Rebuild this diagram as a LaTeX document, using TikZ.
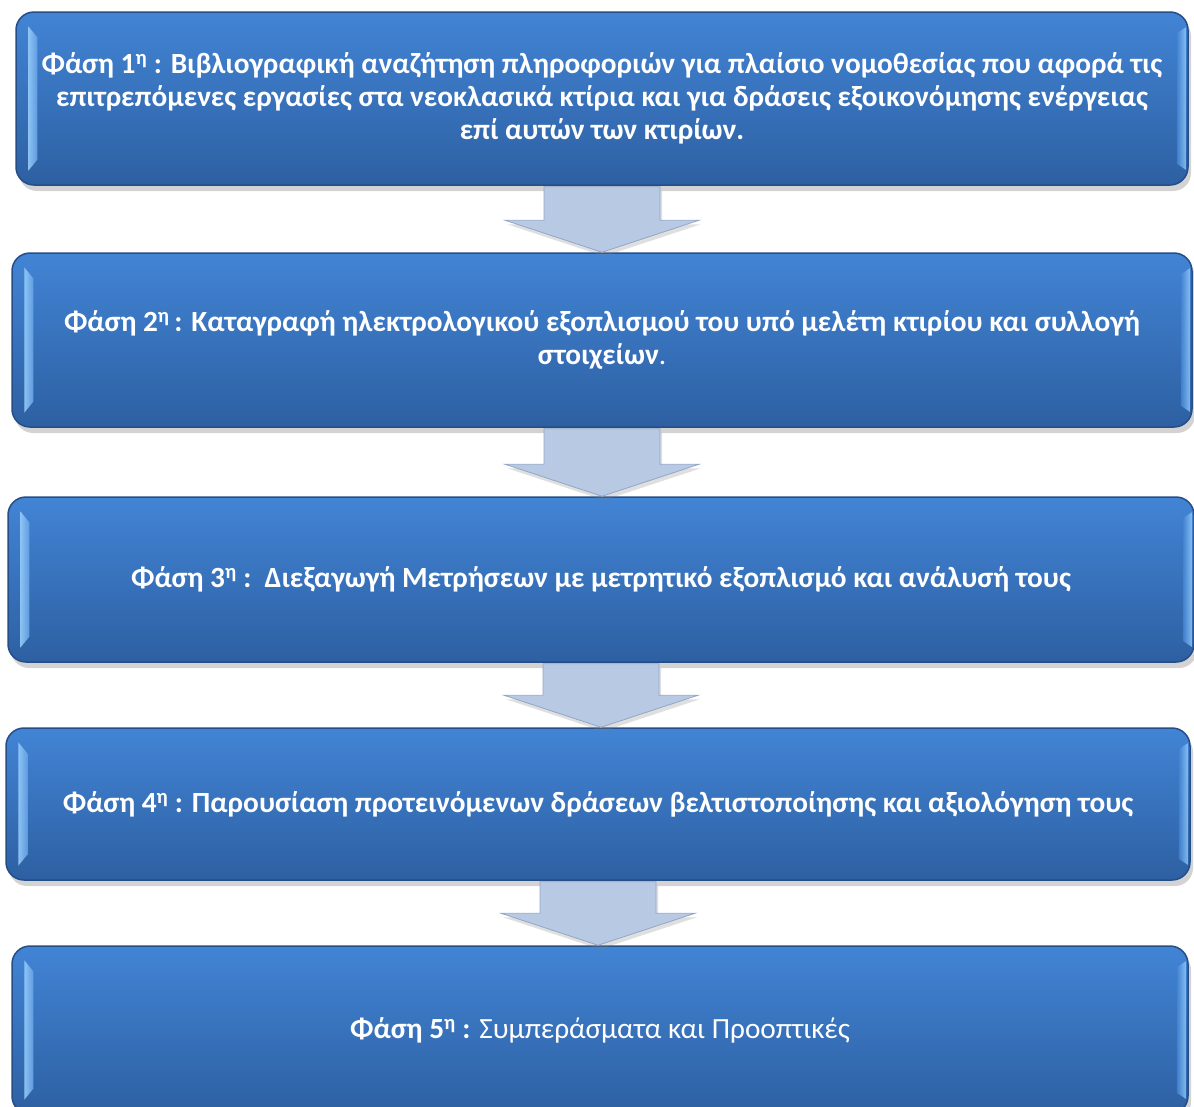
\documentclass[tikz,border=0pt]{standalone}
\usepackage{fontspec}
\setmainfont{Carlito}
\usetikzlibrary{shadows,calc}
\definecolor{phTop}{RGB}{66,132,213}
\definecolor{phBot}{RGB}{45,96,162}
\definecolor{phEdge}{RGB}{38,78,134}
\definecolor{phGlow}{RGB}{150,204,250}
\definecolor{arFill}{RGB}{184,201,227}
\definecolor{arEdge}{RGB}{146,166,200}

\begin{document}
\begin{tikzpicture}[x=1pt,y=-1pt,
    phBoxS/.style={draw=phEdge,line width=1.5pt,rounded corners=18pt,
        top color=phTop,bottom color=phBot,text=white,align=center,
        font=\fontsize{29.3}{33}\selectfont\bfseries,inner sep=0pt,
        drop shadow={shadow xshift=3pt,shadow yshift=-6pt,opacity=0.35}},
    phArrS/.style={fill=arFill,draw=arEdge,line width=0.8pt,line join=miter,
        drop shadow={shadow xshift=2pt,shadow yshift=-4pt,opacity=0.25}},
    phGlowS/.style={left color=phGlow,right color=phGlow!40!phTop,opacity=0.9},
]
\useasboundingbox (0,0) rectangle (1194,1106);
% Phase boxes
\node[phBoxS,minimum width=1172pt,minimum height=173pt] (ph1) at (602,98.5)
    {Φάση 1\textsuperscript{η} : Βιβλιογραφική αναζήτηση πληροφοριών για πλαίσιο νομοθεσίας που αφορά τις\\
     επιτρεπόμενες εργασίες στα νεοκλασικά κτίρια και για δράσεις εξοικονόμησης ενέργειας\\
     επί αυτών των κτιρίων.};
\node[phBoxS,minimum width=1180pt,minimum height=174pt] (ph2) at (602,340)
    {Φάση 2\textsuperscript{η}\,: Καταγραφή ηλεκτρολογικού εξοπλισμού του υπό μελέτη κτιρίου και συλλογή\\
     στοιχείων{\mdseries.}};
\node[phBoxS,minimum width=1186pt,minimum height=165pt] (ph3) at (601,579.5)
    {Φάση 3\textsuperscript{η} :\ \ Διεξαγωγή Μετρήσεων με μετρητικό εξοπλισμό και ανάλυσή τους};
\node[phBoxS,minimum width=1184pt,minimum height=152pt] (ph4) at (598,804)
    {Φάση 4\textsuperscript{η} : Παρουσίαση προτεινόμενων δράσεων βελτιστοποίησης και αξιολόγηση τους};
\node[phBoxS,minimum width=1176pt,minimum height=168pt] (ph5) at (600,1030)
    {Φάση 5\textsuperscript{η} : {\mdseries Συμπεράσματα και Προοπτικές}};
% Bevel highlights on the box sides
\foreach \n in {ph1,ph2,ph3,ph4,ph5} {
  \path[phGlowS] ($(\n.north west)+(13,15)$) -- ($(\n.north west)+(22,26)$)
    -- ($(\n.south west)+(22,-26)$) -- ($(\n.south west)+(13,-15)$) -- cycle;
  \path[left color=phTop,right color=phGlow,opacity=0.8] ($(\n.north east)+(-12,22)$)
    -- ($(\n.north east)+(-3,16)$) -- ($(\n.south east)+(-3,-16)$)
    -- ($(\n.south east)+(-12,-22)$) -- cycle;
}
% Block arrows between the phases
\foreach \a/\b in {ph1/ph2,ph2/ph3,ph3/ph4,ph4/ph5}
  \path[phArrS] let \p1=(\a.south), \p2=(\b.north) in
    (\x1-58pt,\y1-1pt) -- (\x1+58pt,\y1-1pt) -- (\x1+58pt,\y2+32pt) -- (\x1+97pt,\y2+32pt)
    -- (\x1,\y2) -- (\x1-97pt,\y2+32pt) -- (\x1-58pt,\y2+32pt) -- cycle;
\end{tikzpicture}
\end{document}
